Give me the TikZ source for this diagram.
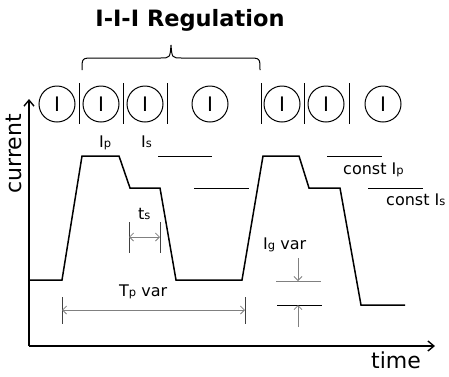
\documentclass[tikz,border=0pt]{standalone}
\usepackage{fontspec}
\setmainfont{DejaVu Sans}
\usetikzlibrary{arrows.meta}
\newcommand{\lowsub}[1]{\raisebox{-0.6pt}{\fontsize{11.5}{11.5}\selectfont #1}}

\tikzset{
  wave/.style={line width=1.5pt},
  ring/.style={draw, circle, line width=1pt, minimum size=36pt, inner sep=0pt, font=\fontsize{20}{20}\selectfont},
  lbl/.style={anchor=base west, inner sep=0pt, font=\fontsize{16}{16}\selectfont},
  axlbl/.style={inner sep=0pt, font=\fontsize{22}{22}\selectfont},
  barb/.tip={Straight Barb[length=4pt,width=8pt]},
  dim/.style={gray, line width=0.8pt, barb-barb},
  tick/.style={darkgray, line width=0.8pt},
  level/.style={line width=0.8pt},
}

\begin{document}
\begin{tikzpicture}[x=1pt, y=-1pt]
  \useasboundingbox (0,0) rectangle (449,376);

  \node[anchor=base, font=\bfseries\fontsize{22.5}{22.5}\selectfont] (title) at (190,26) {I-I-I Regulation};
  \draw[line width=1pt] (82,70) .. controls (82,58) .. (94,58) -- (160,58)
    .. controls (170,58) .. (171,45) .. controls (172,58) .. (182,58) -- (248,58)
    .. controls (260,58) .. (260,70);

  \foreach \x [count=\i] in {57,101,145,210,282,326,383}
    \node[ring] (c\i) at (\x,104) {I};
  \foreach \x in {79,123,167,261,304,349}
    \draw[line width=1pt] (\x,83) -- (\x,124);

  \coordinate (org) at (29,346);
  \coordinate (ytop) at (29,99);
  \coordinate (xend) at (435,346);
  \draw[line width=1.4pt, -{Straight Barb[length=6pt,width=10pt]}] (org) -- (ytop);
  \draw[line width=1.4pt, -{Straight Barb[length=6pt,width=10pt]}] (org) -- (xend);
  \node[axlbl, rotate=90] (ylab) at (14,154) {current};
  \node[axlbl, anchor=base west] (xlab) at (371,368) {time};

  \draw[wave] (29,280) -- (62,280) -- (82,156) -- (119,156) -- (130,188) -- (160,188)
    -- (176,280) -- (242,280) -- (263,156) -- (299,156) -- (309,188) -- (340,188)
    -- (361,305) -- (405,305);

  \draw[level] (158,156) -- (212,156);
  \draw[level] (194,188) -- (249,188);
  \draw[level] (327,156) -- (382,156);
  \draw[level] (368,188) -- (423,188);

  \node[lbl] (ip) at (99,147) {I\lowsub{p}};
  \node[lbl] (is) at (141,147) {I\lowsub{s}};
  \node[lbl] (cip) at (343,174) {const I\lowsub{p}};
  \node[lbl] (cis) at (386,205) {const I\lowsub{s}};

  \coordinate (tsA) at (129,222);
  \coordinate (tsB) at (160,222);
  \draw[tick] (tsA) -- ++(0,31);
  \draw[tick] (tsB) -- ++(0,31);
  \draw[dim] ([yshift=-15pt]tsA) -- ([yshift=-15pt]tsB);
  \node[lbl] (ts) at (138,219) {t\lowsub{s}};

  \coordinate (tpA) at (62,297);
  \coordinate (tpB) at (245,297);
  \draw[tick] (tpA) -- ++(0,27);
  \draw[tick] (tpB) -- ++(0,27);
  \draw[dim] ([yshift=-13pt]tpA) -- ([yshift=-13pt]tpB);
  \node[lbl] (tp) at (119,296) {T\lowsub{p} var};

  \coordinate (igU) at (298,281);
  \coordinate (igL) at (298,305);
  \draw[gray, line width=1pt] (276,281) -- (321,281);
  \draw[level] (277,305) -- (322,305);
  \draw[gray, line width=0.8pt, -barb] (298,258) -- (igU);
  \draw[gray, line width=0.8pt, -barb] (298,327) -- (igL);
  \node[lbl] (ig) at (263,249) {I\lowsub{g} var};
\end{tikzpicture}
\end{document}
